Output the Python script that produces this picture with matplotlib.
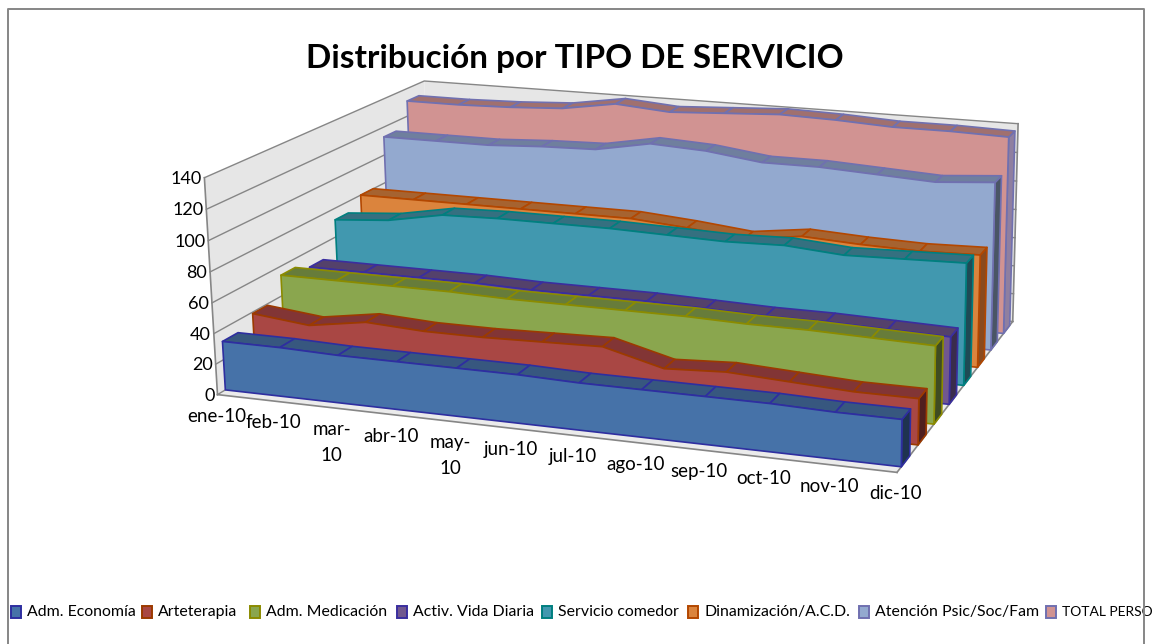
import numpy as np
import matplotlib
matplotlib.use('Agg')
import matplotlib.pyplot as plt

plt.rcParams['font.family'] = ['Lato', 'DejaVu Sans']

meses = ['ene-10', 'feb-10', 'mar-\n10', 'abr-10', 'may-\n10', 'jun-10',
         'jul-10', 'ago-10', 'sep-10', 'oct-10', 'nov-10', 'dic-10']
ticks_y = [0, 20, 40, 60, 80, 100, 120, 140]

nombres = ['Adm. Economía', 'Arteterapia', 'Adm. Medicación', 'Activ. Vida Diaria',
           'Servicio comedor', 'Dinamización/A.C.D.', 'Atención Psic/Soc/Fam', 'TOTAL PERSO']

economia = [32, 32, 31, 31, 31, 31, 30, 30, 30, 30, 29, 29]
arteterapia = [39, 35, 41, 39, 39, 40, 41, 31, 33, 31, 29, 29]
medicacion = [54, 54, 54, 54, 53, 53, 53, 53, 52, 52, 51, 50]
vida_diaria = [49, 49, 49, 49, 48, 48, 48, 47, 46, 46, 45, 44]
comedor = [72, 75, 82, 83, 83, 83, 82, 81, 82, 79, 80, 81]
dinamizacion = [80, 80, 80, 80, 80, 80, 77, 73, 78, 76, 75, 76]
atencion = [113, 113, 113, 115, 116, 123, 121, 116, 116, 114, 112, 115]
total = [131, 131, 132, 134, 140, 137, 139, 141, 140, 138, 138, 137]
series = [economia, arteterapia, medicacion, vida_diaria, comedor, dinamizacion, atencion, total]

cara = ['#4672A8', '#A94744', '#8AA64E', '#71588F', '#4198AF', '#DB843D', '#93A9CF', '#D19392']
techo = ['#37577F', '#823535', '#677C3A', '#54416B', '#357080', '#A66330', '#6F7F9E', '#A0706F']
lado = ['#1F3350', '#4F1F1F', '#3F4C22', '#3A2C4C', '#1F4A55', '#8A4A1E', '#4A5565', '#8F7FA0']
borde = ['#2E2EA0', '#9C3A00', '#8B8B00', '#3A2E9F', '#007F7F', '#B34700', '#7070B0', '#7070B0']

# esquinas de la caja: (mes, serie, valor) -> pixel
esquinas = [((0, 0, 0), (215, 389)), ((0, 0, 140), (206, 181)),
            ((0, 8, 0), (433, 272)), ((0, 8, 140), (423, 77)),
            ((11, 8, 0), (1012, 318)), ((11, 8, 140), (1018, 125)),
            ((11, 0, 0), (898, 475))]
A, b = [], []
for (x, y, z), (u, v) in esquinas:
    A.append([x, y, z, 1, 0, 0, 0, 0, -u * x, -u * y, -u * z])
    A.append([0, 0, 0, 0, x, y, z, 1, -v * x, -v * y, -v * z])
    b += [u, v]
P = np.linalg.lstsq(np.array(A, float), np.array(b, float), rcond=None)[0]


def proy(x, y, z):
    w = P[8] * x + P[9] * y + P[10] * z + 1
    return ((P[0] * x + P[1] * y + P[2] * z + P[3]) / w,
            (P[4] * x + P[5] * y + P[6] * z + P[7]) / w)


def poligono(puntos, color, linea, lw=1.2, z=1):
    pts = [proy(*p) for p in puntos]
    ax.fill([p[0] for p in pts], [p[1] for p in pts], facecolor=color, edgecolor=linea,
            linewidth=lw, joinstyle='round', zorder=z)


fig = plt.figure(figsize=(11.55, 6.44), dpi=100)
ax = fig.add_axes([0, 0, 1, 1])
ax.set_xlim(0, 1155)
ax.set_ylim(644, 0)
ax.axis('off')

# borde del grafico
ax.plot([8, 8, 1144, 1144], [644, 9, 9, 644], color='#868686', lw=1.4, zorder=70)

ax.text(575, 58, 'Distribución por TIPO DE SERVICIO', fontsize=24, fontweight='bold',
        ha='center', va='center', color='black')

# paredes y suelo
gris = '#868686'
poligono([(0, 0, 0), (0, 8, 0), (0, 8, 140), (0, 0, 140)], '#E6E6E6', 'none', 0)
poligono([(0, 8, 0), (11, 8, 0), (11, 8, 140), (0, 8, 140)], '#E6E6E6', 'none', 0)
poligono([(0, 0, 0), (11, 0, 0), (11, 8, 0), (0, 8, 0)], '#EBEBEB', 'none', 0)
for t in ticks_y:
    pts = [proy(0, 0, t), proy(0, 8, t), proy(11, 8, t)]
    ax.plot([p[0] for p in pts], [p[1] for p in pts], color=gris, lw=1.0, zorder=2)
    px, py = proy(0, 0, t)
    ax.text(px - 3, py + 1, str(t), ha='right', va='center', fontsize=13, color='black')
for a, c in [((0, 0, 0), (0, 0, 140)), ((0, 0, 0), (11, 0, 0)), ((11, 0, 0), (11, 8, 0)),
             ((11, 8, 0), (11, 8, 140))]:
    p1, p2 = proy(*a), proy(*c)
    ax.plot([p1[0], p2[0]], [p1[1], p2[1]], color=gris, lw=1.2, zorder=2)

# series de atras hacia delante
n = len(meses)
for i in range(len(series) - 1, -1, -1):
    v = series[i]
    y0, y1 = i + 0.25, i + 0.75
    z = 10 + (len(series) - i) * 3
    poligono([(n - 1, y0, 0), (n - 1, y1, 0), (n - 1, y1, v[-1]), (n - 1, y0, v[-1])],
             lado[i], borde[i], z=z)
    for k in range(n - 1):
        poligono([(k, y0, v[k]), (k + 1, y0, v[k + 1]), (k + 1, y1, v[k + 1]), (k, y1, v[k])],
                 techo[i], borde[i], z=z + 1)
    frente = [(0, y0, 0)] + [(k, y0, v[k]) for k in range(n)] + [(n - 1, y0, 0)]
    poligono(frente, cara[i], borde[i], z=z + 2)

# etiquetas de meses
for k, m in enumerate(meses):
    px, py = proy(k, 0, 0)
    ax.text(px - 1, py + 13, m, ha='center', va='top', fontsize=13.5, color='black',
            linespacing=1.65, zorder=60)

# leyenda
pos_leyenda = [16, 147, 255, 402, 547, 693, 864, 1051]
for i, nombre in enumerate(nombres):
    x0 = pos_leyenda[i]
    ax.fill([x0 - 5, x0 + 5, x0 + 5, x0 - 5], [606, 606, 618, 618], facecolor=cara[i],
            edgecolor=borde[i], linewidth=1.4, zorder=60)
    tam = 10.0 if i == len(nombres) - 1 else 11.4
    ax.text(x0 + 11, 612, nombre, ha='left', va='center', fontsize=tam, color='black', zorder=60)

fig.savefig('out.png', dpi=100)
